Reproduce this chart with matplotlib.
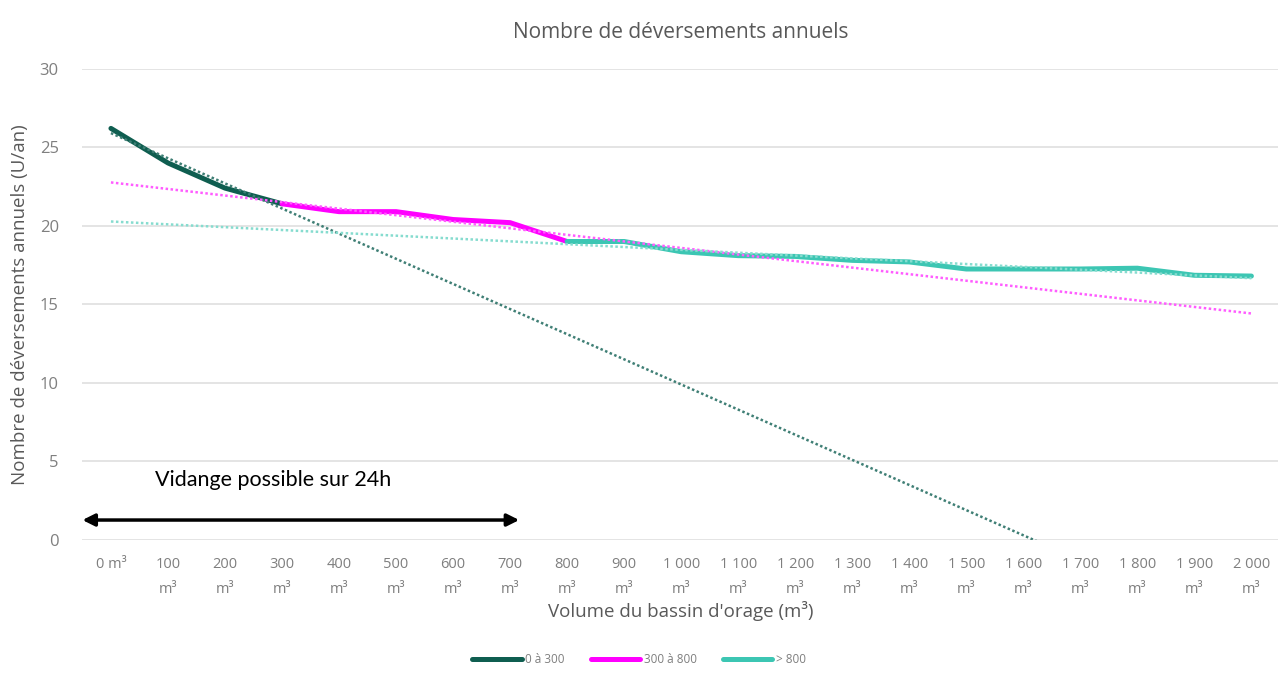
#!/usr/bin/env python3
"""Annual overflow count vs storm basin volume, with Excel-style linear trendlines."""

import matplotlib

matplotlib.use("Agg")
import matplotlib.pyplot as plt
import numpy as np

VOLUMES = list(range(0, 2001, 100))
GREEN_IDX = [0, 1, 2, 3]
GREEN_VALUES = [26.2, 24.0, 22.4, 21.4]
MAGENTA_IDX = [3, 4, 5, 6, 7, 8]
MAGENTA_VALUES = [21.4, 20.9, 20.9, 20.4, 20.2, 19.0]
CYAN_IDX = list(range(8, 21))
CYAN_VALUES = [19.0, 19.0, 18.35, 18.1, 18.05, 17.8, 17.7, 17.25, 17.25, 17.25, 17.3, 16.85, 16.8]
SERIES_LABELS = ["0 à 300", "300 à 800", "> 800"]

GRAY = "#7f7f7f"
FONT = ["Open Sans", "DejaVu Sans"]


def volume_label(v: int) -> str:
    if v == 0:
        return "0 m³"
    if v >= 1000:
        return f"{v // 1000} {v % 1000:03d}\nm³"
    return f"{v}\nm³"


def main() -> None:
    plt.rcParams["font.family"] = FONT
    fig = plt.figure(figsize=(12.78, 6.87), dpi=100)
    ax = fig.add_axes([0.0645, 0.214, 0.937, 0.686])

    series = [
        (GREEN_IDX, GREEN_VALUES, "#0f5e50", "#3f7f75"),
        (MAGENTA_IDX, MAGENTA_VALUES, "#ff00ff", "#ff5cff"),
        (CYAN_IDX, CYAN_VALUES, "#3cc6b3", "#86dccf"),
    ]
    xs_all = np.arange(len(VOLUMES))
    handles = []
    for (idx, vals, color, trend_color), label in zip(series, SERIES_LABELS):
        (h,) = ax.plot(idx, vals, color=color, linewidth=3.6, solid_capstyle="round",
                       zorder=3, label=label)
        handles.append(h)
        slope, intercept = np.polyfit(idx, vals, 1)
        ax.plot(xs_all, slope * xs_all + intercept, color=trend_color, linewidth=1.8,
                linestyle=(0, (1, 1)), zorder=4)

    ax.set_xlim(-0.5, len(VOLUMES) - 0.5)
    ax.set_ylim(0, 30)
    ax.set_yticks(np.arange(0, 31, 5))
    ax.set_xticks(xs_all)
    ax.set_xticklabels([volume_label(v) for v in VOLUMES], linespacing=1.9)
    ax.grid(axis="y", color="#dcdcdc", linewidth=1.1)
    ax.set_axisbelow(True)
    for spine in ax.spines.values():
        spine.set_visible(False)
    ax.tick_params(length=0, colors=GRAY, labelsize=10.5)
    ax.tick_params(axis="y", pad=17, labelsize=12)
    ax.tick_params(axis="x", pad=12)

    ax.set_title("Nombre de déversements annuels", fontsize=15, color="#595959", pad=22)
    ax.set_xlabel("Volume du bassin d'orage (m³)", fontsize=13.5, color="#595959", labelpad=3)
    ax.set_ylabel("Nombre de déversements annuels (U/an)", fontsize=13.5, color="#595959",
                  labelpad=8)

    ax.text(0.77, 3.8, "Vidange possible sur 24h", fontsize=15.5, color="black",
            family=["Lato", "DejaVu Sans"], va="center", ha="left")
    ax.annotate("", xy=(7.16, 1.27), xytext=(-0.5, 1.27), annotation_clip=False,
                arrowprops=dict(arrowstyle="<|-|>", color="black", lw=2.5,
                                mutation_scale=18, shrinkA=0, shrinkB=0))

    fig.legend(handles=handles, loc="center", bbox_to_anchor=(0.5, 0.04), ncol=3,
               frameon=False, fontsize=8.5, handlelength=4.2, handletextpad=0.3,
               columnspacing=2.2, labelcolor=GRAY)

    fig.savefig("out.png", dpi=100)
    plt.close(fig)


if __name__ == "__main__":
    main()
